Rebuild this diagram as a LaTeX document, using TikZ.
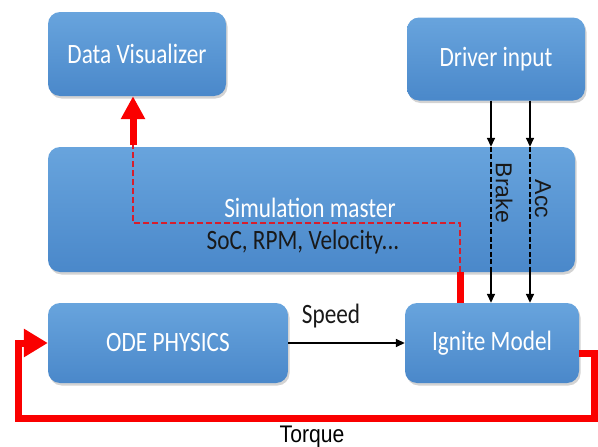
\documentclass[tikz,border=0pt]{standalone}
\usepackage{fontspec}
\setmainfont{Carlito}[FakeStretch=0.83]
\newfontfamily\arialn{Liberation Sans}[FakeStretch=0.88]
\newfontfamily\arialr{Liberation Sans}
\usetikzlibrary{arrows.meta,shadows,calc}
\definecolor{boxtop}{RGB}{104,164,221}
\definecolor{boxbot}{RGB}{74,136,202}
\definecolor{redsol}{RGB}{250,0,0}
\definecolor{reddash}{RGB}{215,30,45}
\tikzset{
  blk/.style={rounded corners=12pt, top color=boxtop, bottom color=boxbot, draw=none,
    drop shadow={opacity=0.35, shadow xshift=1.5pt, shadow yshift=-2.5pt},
    text=white, font=\fontsize{28}{32}\selectfont, inner sep=0pt},
  lbl/.style={font=\fontsize{28}{32}\selectfont, text=black!90, inner sep=0pt},
  rlbl/.style={font=\arialr\fontsize{23}{26}\selectfont, text=black!90, inner sep=0pt, rotate=-90},
  blackarr/.style={line width=1.5pt, -{Triangle[length=9pt,width=8pt]}},
  blackdash/.style={line width=1.5pt, dashed, dash pattern=on 5pt off 2.5pt},
  redthick/.style={line width=7pt, draw=redsol},
  reddashed/.style={line width=2pt, draw=reddash, dash pattern=on 6pt off 3pt},
}
\begin{document}
\begin{tikzpicture}[x=1pt,y=-1pt]
\useasboundingbox (0,0) rectangle (598,447);
% boxes
\node[blk, minimum width=178pt, minimum height=84pt] (dv) at (137,54) {Data Visualizer};
\node[blk, minimum width=178pt, minimum height=83pt] (di) at (496,59) {Driver input};
\node[blk, minimum width=527pt, minimum height=125pt] (sim) at (311.5,209.5) {};
\node[blk, minimum width=240pt, minimum height=80pt] (ode) at (168,343) {ODE PHYSICS};
\node[blk, minimum width=174pt, minimum height=80pt] (ign) at (492,343) {Ignite Model};
% texts in sim
\node[lbl, text=white] (simt) at (310,208) {Simulation master};
\node[lbl] (soc) at (303,242) {SoC, RPM, Velocity...};
% coordinates for red path
\coordinate (r1) at (460,223);
\coordinate (r2) at (133,223);
\coordinate (r3) at (133,145);
% red feedback to data visualizer
\draw[redthick] (ign.north -| r1) -- (sim.south -| r1);
\draw[reddashed] (sim.south -| r1) -- (r1) -- (r2) -- (r3);
\draw[redthick, -{Triangle[length=23pt,width=23pt]}] (r3) -- (dv.south -| r3);
% driver inputs
\coordinate (bx) at (491,0);
\coordinate (ax) at (530,0);
\draw[blackarr] (di.south -| bx) -- (sim.north -| bx);
\draw[blackdash] (sim.north -| bx) -- (sim.south -| bx);
\draw[blackarr] (sim.south -| bx) -- (ign.north -| bx);
\draw[blackarr] (di.south -| ax) -- (sim.north -| ax);
\draw[blackdash] (sim.north -| ax) -- (sim.south -| ax);
\draw[blackarr] (sim.south -| ax) -- (ign.north -| ax);
\node[rlbl] (brake) at (504,193) {Brake};
\node[rlbl] (acc) at (543,199) {Acc};
% speed
\draw[blackarr] (ode.east) -- (ign.east -| ign.west);
\node[lbl] (speed) at (331,316) {Speed};
% torque
\coordinate (t1) at (594,418);
\coordinate (t2) at (18,343);
\draw[redthick, -{Triangle[length=24pt,width=27pt]}] ([yshift=-10pt]ign.east) -| (t1) -| (t2) -- (ode.west);
\node[font=\arialn\fontsize{24}{28}\selectfont, inner sep=0pt] (torque) at (312,437) {Torque};
\end{tikzpicture}
\end{document}
